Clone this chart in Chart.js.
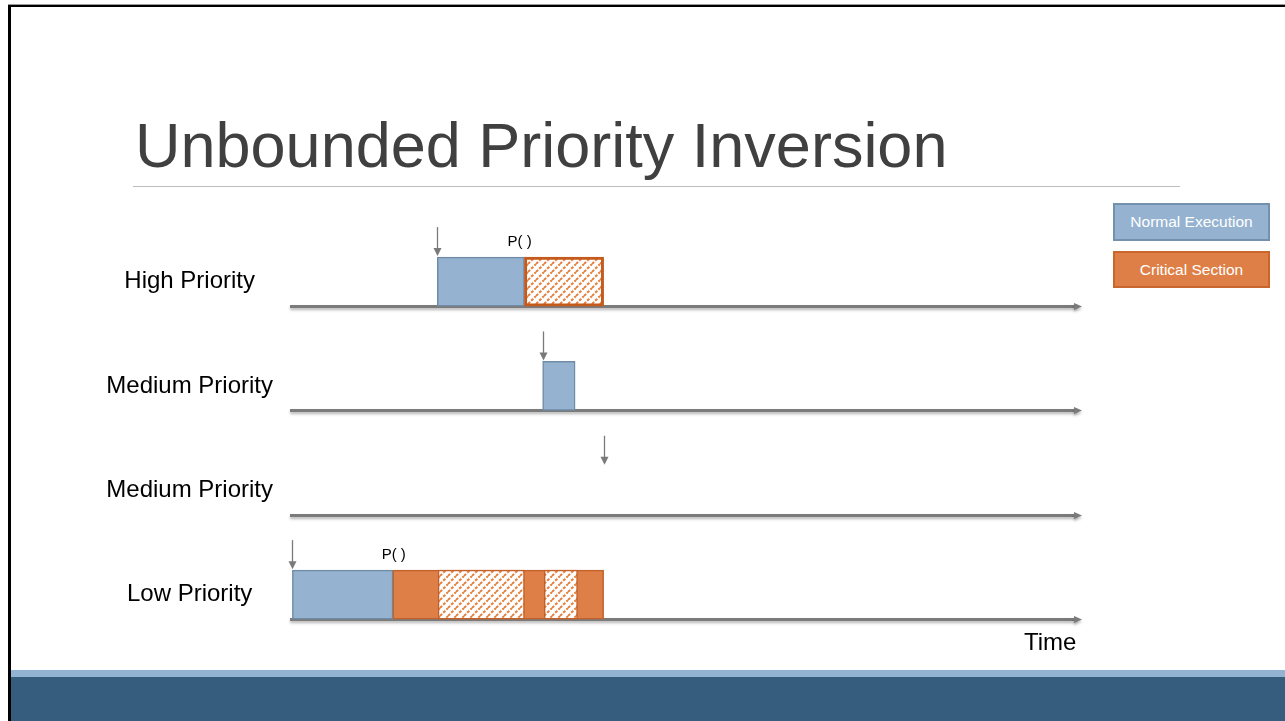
<!DOCTYPE html>
<html>
<head>
<meta charset="utf-8">
<script src="https://cdn.jsdelivr.net/npm/chart.js@4/dist/chart.umd.min.js"></script>
<style>
  html, body { margin: 0; padding: 0; background: #fff; overflow: hidden; }
  body { width: 1285px; height: 721px; position: relative; font-family: "Liberation Sans", Arial, sans-serif; }
  #frame { position: absolute; left: 8px; top: 5px; width: 1285px; height: 721px; border-top: 2px solid #000; border-left: 3px solid #000; box-sizing: border-box; }
  #topline { position: absolute; left: 8px; top: 4px; width: 1285px; height: 1px; background: #9a9a9a; }
  #title { position: absolute; left: 135px; top: 114px; font-size: 63px; line-height: 63px; color: #404040; white-space: nowrap; }
  #rule { position: absolute; left: 133px; top: 186px; width: 1047px; height: 1px; background: #bdbdbd; }
  .key { position: absolute; left: 1113px; width: 157px; box-sizing: border-box; color: #fff; font-size: 15.5px; text-align: center; border: 2px solid; }
  #key1 { top: 203px; height: 38px; line-height: 34px; background: #95b3d0; border-color: #7391ad; }
  #key2 { top: 251px; height: 37px; line-height: 33px; background: #de7f47; border-color: #c8662e; }
  #time { position: absolute; left: 1024px; top: 630px; font-size: 24px; line-height: 24px; color: #000; }
  #stripe { position: absolute; left: 11px; top: 670px; width: 1274px; height: 7px; background: #92b4d2; }
  #band { position: absolute; left: 11px; top: 677px; width: 1274px; height: 44px; background: #365d7e; }
  #pie { position: absolute; left: 0; top: 0; }
</style>
</head>
<body>
<div id="topline"></div>
<div id="frame"></div>
<div id="title">Unbounded Priority Inversion</div>
<div id="rule"></div>
<canvas id="pie" width="1285" height="721"></canvas>
<div class="key" id="key1">Normal Execution</div>
<div class="key" id="key2">Critical Section</div>
<div id="time">Time</div>
<div id="stripe"></div>
<div id="band"></div>
<script>
// rows of the timeline, top to bottom
const rows = ['High Priority', 'Medium Priority', 'Medium Priority', 'Low Priority'];

// time spans on a 0..100 time axis, one entry per row (null = nothing)
const normalRun = [[18.6, 29.6], [31.9, 36.0], null, [0.3, 13.0]];
const lockHeld = [null, null, null, [13.0, 39.6]];
const lockWait = [[29.6, 39.6], null, null, [18.7, 29.6]];
const lockWait2 = [null, null, null, [32.1, 36.3]];

// when each task becomes ready (arrow) and when it calls P()
const arrivals = [18.6, 31.9, 39.6, 0.3];
const lockCalls = [29.0, null, null, 13.1];

const BAR_H = 49;
const blue = '#95b3d0', blueEdge = '#6f8ba6';
const orange = '#de7f47', orangeEdge = '#c2612b';

function makeHatch() {
  const c = document.createElement('canvas');
  c.width = 8; c.height = 8;
  const g = c.getContext('2d');
  g.fillStyle = '#fff';
  g.fillRect(0, 0, 8, 8);
  g.strokeStyle = '#e4803f';
  g.lineWidth = 2;
  g.setLineDash([3, 1.5]);
  g.beginPath();
  g.moveTo(0, 8); g.lineTo(8, 0);
  g.moveTo(-2, 2); g.lineTo(2, -2);
  g.moveTo(6, 10); g.lineTo(10, 6);
  g.stroke();
  return g.createPattern(c, 'repeat');
}

const timeline = {
  id: 'timeline',
  beforeDatasetsDraw(chart) {
    const {ctx, chartArea, scales: {y}} = chart;
    rows.forEach((r, i) => {
      const base = Math.round(y.getPixelForValue(i) + BAR_H / 2) + 0.5;
      ctx.save();
      ctx.shadowColor = 'rgba(0,0,0,0.3)';
      ctx.shadowBlur = 3;
      ctx.shadowOffsetY = 2;
      ctx.strokeStyle = '#7b7b7b';
      ctx.fillStyle = '#7b7b7b';
      ctx.lineWidth = 3;
      ctx.beginPath();
      ctx.moveTo(chartArea.left, base);
      ctx.lineTo(chartArea.right - 6, base);
      ctx.stroke();
      ctx.beginPath();
      ctx.moveTo(chartArea.right - 8, base - 3.5);
      ctx.lineTo(chartArea.right, base);
      ctx.lineTo(chartArea.right - 8, base + 3.5);
      ctx.closePath();
      ctx.fill();
      ctx.restore();
    });
  },
  afterDatasetsDraw(chart) {
    const {ctx, scales: {x, y}} = chart;
    ctx.save();
    rows.forEach((r, i) => {
      const top = y.getPixelForValue(i) - BAR_H / 2;
      const ax = Math.round(x.getPixelForValue(arrivals[i])) + 0.5;
      ctx.strokeStyle = '#7a7a7a';
      ctx.fillStyle = '#7a7a7a';
      ctx.lineWidth = 1.3;
      ctx.beginPath();
      ctx.moveTo(ax, top - 30);
      ctx.lineTo(ax, top - 8);
      ctx.stroke();
      ctx.beginPath();
      ctx.moveTo(ax - 4, top - 9);
      ctx.lineTo(ax + 4, top - 9);
      ctx.lineTo(ax, top - 1);
      ctx.closePath();
      ctx.fill();
      if (lockCalls[i] !== null) {
        ctx.fillStyle = '#000';
        ctx.font = '15px "Liberation Sans", Arial, sans-serif';
        ctx.textAlign = 'center';
        ctx.textBaseline = 'middle';
        ctx.fillText('P( )', x.getPixelForValue(lockCalls[i]), top - 15);
      }
    });
    ctx.restore();
  }
};

const hatch = makeHatch();

const config = {
  type: 'bar',
  data: {
    labels: rows,
    datasets: [
      {
        label: 'Waiting on lock',
        data: lockWait2,
        backgroundColor: hatch,
        borderColor: orangeEdge,
        borderWidth: 1.5,
      },
      {
        label: 'Waiting on lock',
        data: lockWait,
        backgroundColor: hatch,
        borderColor: ['#c55a1d', null, null, orangeEdge],
        borderWidth: [3, 0, 0, 1.5],
      },
      {
        label: 'Critical Section',
        data: lockHeld,
        backgroundColor: orange,
        borderColor: orangeEdge,
        borderWidth: 1.5,
      },
      {
        label: 'Normal Execution',
        data: normalRun,
        backgroundColor: blue,
        borderColor: blueEdge,
        borderWidth: 1.5,
      }
    ]
  },
  options: {
    indexAxis: 'y',
    responsive: false,
    animation: false,
    layout: {
      padding: { left: 0, top: 229.4, right: 203, bottom: 74.2 }
    },
    datasets: {
      bar: {
        grouped: false,
        barThickness: BAR_H,
        borderSkipped: false
      }
    },
    scales: {
      x: {
        type: 'linear',
        min: 0,
        max: 100,
        display: false
      },
      y: {
        grid: { display: false },
        border: { display: false },
        ticks: {
          crossAlign: 'center',
          padding: 9,
          color: '#000',
          font: { family: '"Liberation Sans", Arial, sans-serif', size: 24 }
        },
        afterFit: (scale) => { scale.width = 290; }
      }
    },
    plugins: {
      legend: { display: false },
      tooltip: { enabled: false }
    }
  },
  plugins: [timeline]
};

new Chart(document.getElementById('pie'), config);
</script>
</body>
</html>
